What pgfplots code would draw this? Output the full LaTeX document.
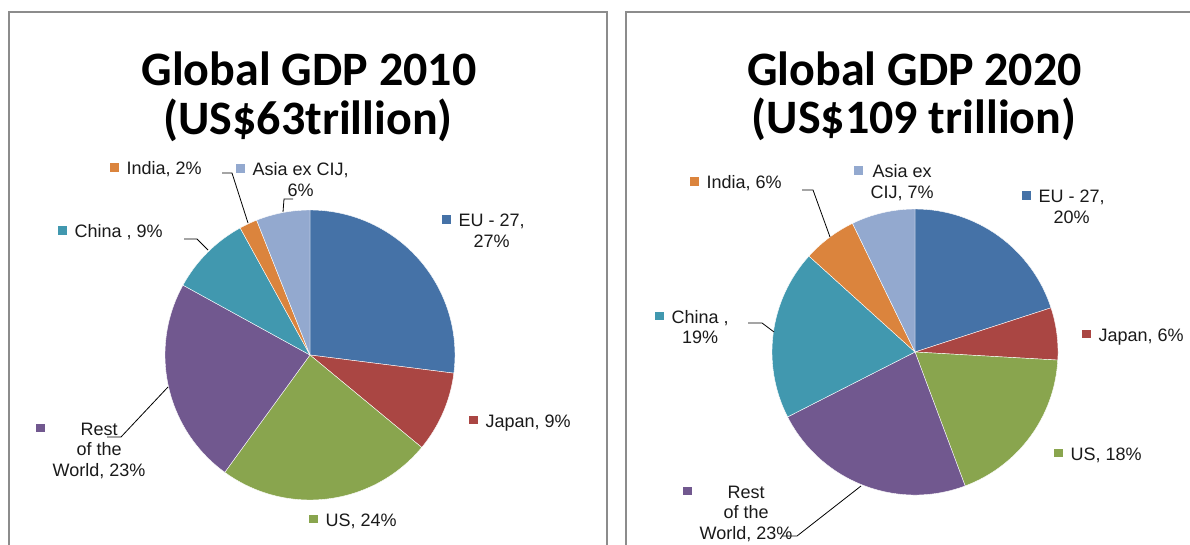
\documentclass[border=0pt]{standalone}
\usepackage{pgfplots}
\pgfplotsset{compat=1.18}
\usepackage{fontspec}
\setmainfont{Liberation Sans}
\newfontfamily\titlefont{Carlito}
\definecolor{cEU}{HTML}{4572A7}
\definecolor{cJP}{HTML}{AA4643}
\definecolor{cUS}{HTML}{89A54E}
\definecolor{cRW}{HTML}{71588F}
\definecolor{cCN}{HTML}{4198AF}
\definecolor{cIN}{HTML}{DB843D}
\definecolor{cAS}{HTML}{93A9CF}
\definecolor{txt}{HTML}{1A1A1A}
\definecolor{frame}{HTML}{8C8C8C}
\tikzset{lab/.style={text=txt, font=\fontsize{18}{20.5}\selectfont, inner sep=0pt, anchor=base west},
  ttl/.style={anchor=base, text=black, font=\titlefont\bfseries\fontsize{48}{52}\selectfont}}
% slice: cx, cy, radius, cumulative share before (%), share (%), colour
\newcommand{\slice}[6]{%
  \fill[#6, draw=white, line width=0.4pt] (axis cs:#1,#2) -- ++({90-3.6*(#4)}:#3pt)
    arc[start angle={90-3.6*(#4)}, delta angle={-3.6*(#5)}, radius=#3pt] -- cycle;}
\newcommand{\sq}[1]{\textcolor{#1}{\rule[3pt]{8.5pt}{8.5pt}}\hspace{8pt}}
\begin{document}
\begin{tikzpicture}
\begin{axis}[x=1pt, y=1pt, xmin=0, xmax=1190, ymin=0, ymax=545, y dir=reverse,
  hide axis, clip=true, scale only axis]
\fill[white] (axis cs:0,0) rectangle (axis cs:1190,545);
% panel frames
\draw[frame, line width=2.5pt] (axis cs:9,600) -- (axis cs:9,12) -- (axis cs:607,12) -- (axis cs:607,600);
\draw[frame, line width=2.5pt] (axis cs:626,600) -- (axis cs:626,12) -- (axis cs:1250,12);
% ---------------- 2010 (shares %) ----------------
\slice{310}{355}{145}{0}{27}{cEU}
\slice{310}{355}{145}{27}{9}{cJP}
\slice{310}{355}{145}{36}{24}{cUS}
\slice{310}{355}{145}{60}{23}{cRW}
\slice{310}{355}{145}{83}{9}{cCN}
\slice{310}{355}{145}{92}{2}{cIN}
\slice{310}{355}{145}{94}{6}{cAS}
% ---------------- 2020 (shares %) ----------------
\slice{915}{352}{143}{0}{20.0}{cEU}
\slice{915}{352}{143}{20.0}{5.9}{cJP}
\slice{915}{352}{143}{25.9}{18.4}{cUS}
\slice{915}{352}{143}{44.3}{23.2}{cRW}
\slice{915}{352}{143}{67.5}{19.2}{cCN}
\slice{915}{352}{143}{86.7}{6.1}{cIN}
\slice{915}{352}{143}{92.8}{7.2}{cAS}
% titles
\node[ttl] at (axis cs:309,86) {Global GDP 2010};
\node[ttl] at (axis cs:308,135) {(US\$63trillion)};
\node[ttl] at (axis cs:914.5,86) {Global GDP 2020};
\node[ttl] at (axis cs:914,134) {(US\$109 trillion)};
% leader lines
\draw[black, line width=0.8pt] (axis cs:222,173) -- (axis cs:232,173) -- (axis cs:248,223);
\draw[black, line width=0.8pt] (axis cs:293,199) -- (axis cs:284,199) -- (axis cs:283,212);
\draw[black, line width=0.8pt] (axis cs:184,239) -- (axis cs:197,239) -- (axis cs:208,250);
\draw[black, line width=0.8pt] (axis cs:107,437) -- (axis cs:121,437) -- (axis cs:168,387);
\draw[black, line width=0.8pt] (axis cs:802,190) -- (axis cs:813,190) -- (axis cs:830,237);
\draw[black, line width=0.8pt] (axis cs:748,323) -- (axis cs:762,323) -- (axis cs:774,332);
\draw[black, line width=0.8pt] (axis cs:782,536) -- (axis cs:797,536) -- (axis cs:861,486);
% labels 2010
\node[lab] at (axis cs:442,227) {\sq{cEU}\begin{tabular}[t]{@{}c@{}}EU - 27,\\27\%\end{tabular}};
\node[lab] at (axis cs:469,427) {\sq{cJP}Japan, 9\%};
\node[lab] at (axis cs:309,526) {\sq{cUS}US, 24\%};
\node[lab] at (axis cs:36,435) {\sq{cRW}\begin{tabular}[t]{@{}c@{}}Rest\\of the\\World, 23\%\end{tabular}};
\node[lab] at (axis cs:58,238) {\sq{cCN}China , 9\%};
\node[lab] at (axis cs:110,175) {\sq{cIN}India, 2\%};
\node[lab] at (axis cs:236,176) {\sq{cAS}\begin{tabular}[t]{@{}c@{}}Asia ex CIJ,\\6\%\end{tabular}};
% labels 2020
\node[lab] at (axis cs:1022,203) {\sq{cEU}\begin{tabular}[t]{@{}c@{}}EU - 27,\\20\%\end{tabular}};
\node[lab] at (axis cs:1082,341) {\sq{cJP}Japan, 6\%};
\node[lab] at (axis cs:1054,460) {\sq{cUS}US, 18\%};
\node[lab] at (axis cs:683,498) {\sq{cRW}\begin{tabular}[t]{@{}c@{}}Rest\\of the\\World, 23\%\end{tabular}};
\node[lab] at (axis cs:655,323) {\sq{cCN}\begin{tabular}[t]{@{}c@{}}China ,\\19\%\end{tabular}};
\node[lab] at (axis cs:690,189) {\sq{cIN}India, 6\%};
\node[lab] at (axis cs:854,178) {\sq{cAS}\begin{tabular}[t]{@{}c@{}}Asia ex\\CIJ, 7\%\end{tabular}};
\end{axis}
\end{tikzpicture}
\end{document}
